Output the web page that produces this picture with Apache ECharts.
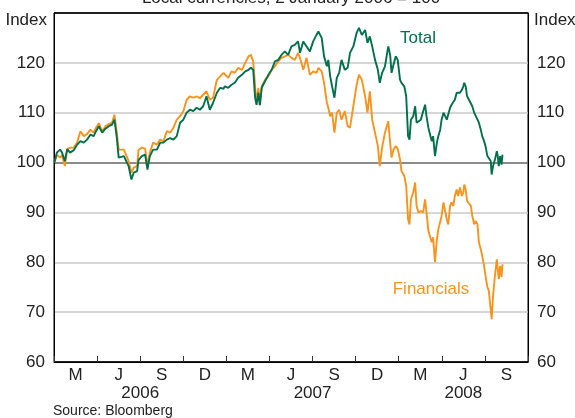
<!DOCTYPE html>
<html>
<head>
<meta charset="utf-8">
<script src="https://cdn.jsdelivr.net/npm/echarts@6/dist/echarts.min.js"></script>
<style>
html, body { margin: 0; padding: 0; background: #fff; }
#chart { width: 575px; height: 418px; }
</style>
</head>
<body>
<div id="chart"></div>
<script>
var dates = [
	'2006-01-02','2006-01-07','2006-01-14','2006-01-18','2006-01-24','2006-01-29','2006-02-04','2006-02-12','2006-02-19','2006-02-26',
	'2006-03-05','2006-03-12','2006-03-19','2006-03-26','2006-03-31','2006-04-06','2006-04-13','2006-04-20','2006-04-27','2006-05-04',
	'2006-05-09','2006-05-14','2006-05-18','2006-05-21','2006-05-29','2006-06-02','2006-06-08','2006-06-14','2006-06-19','2006-06-26',
	'2006-06-29','2006-07-06','2006-07-13','2006-07-18','2006-07-23','2006-07-30','2006-08-07','2006-08-14','2006-08-21','2006-08-28',
	'2006-09-04','2006-09-11','2006-09-18','2006-09-25','2006-10-02','2006-10-09','2006-10-16','2006-10-23','2006-10-30','2006-11-06',
	'2006-11-13','2006-11-20','2006-11-27','2006-12-04','2006-12-12','2006-12-19','2006-12-26','2006-12-29','2007-01-05','2007-01-12',
	'2007-01-19','2007-01-26','2007-02-03','2007-02-10','2007-02-17','2007-02-22','2007-02-27','2007-03-03','2007-03-06','2007-03-10',
	'2007-03-13','2007-03-17','2007-03-24','2007-03-31','2007-04-07','2007-04-14','2007-04-21','2007-04-28','2007-05-05','2007-05-12',
	'2007-05-19','2007-05-26','2007-06-02','2007-06-06','2007-06-13','2007-06-20','2007-06-27','2007-07-04','2007-07-11','2007-07-15',
	'2007-07-22','2007-07-27','2007-08-02','2007-08-05','2007-08-09','2007-08-13','2007-08-18','2007-08-23','2007-08-28','2007-09-02',
	'2007-09-09','2007-09-15','2007-09-20','2007-09-27','2007-10-04','2007-10-09','2007-10-15','2007-10-22','2007-10-27','2007-11-01',
	'2007-11-06','2007-11-12','2007-11-18','2007-11-22','2007-11-27','2007-12-03','2007-12-10','2007-12-14','2007-12-17','2007-12-21',
	'2007-12-26','2007-12-30','2008-01-04','2008-01-07','2008-01-13','2008-01-17','2008-01-21','2008-01-24','2008-01-27','2008-02-01',
	'2008-02-05','2008-02-08','2008-02-12','2008-02-17','2008-02-22','2008-02-26','2008-02-29','2008-03-04','2008-03-07','2008-03-11',
	'2008-03-14','2008-03-18','2008-03-22','2008-03-25','2008-03-29','2008-04-01','2008-04-05','2008-04-08','2008-04-12','2008-04-15',
	'2008-04-19','2008-04-22','2008-04-26','2008-04-29','2008-05-03','2008-05-06','2008-05-10','2008-05-14','2008-05-17','2008-05-19',
	'2008-05-22','2008-05-25','2008-05-29','2008-06-02','2008-06-05','2008-06-09','2008-06-12','2008-06-16','2008-06-19','2008-06-23',
	'2008-06-26','2008-06-30','2008-07-03','2008-07-07','2008-07-10','2008-07-14','2008-07-16','2008-07-19','2008-07-23','2008-07-27',
	'2008-07-29','2008-07-31','2008-08-03','2008-08-06','2008-08-08'
];

var total = [
	100, 102, 102.6, 102, 100.3, 102.7, 102, 102.5, 103.6, 104.3,
	104, 104.6, 105.6, 105.3, 106.3, 107.3, 106, 106.8, 107.3, 107.6,
	108.6, 105, 101, 101, 101.3, 101, 99.3, 96.6, 98, 98.3,
	100.5, 101.3, 101.6, 98.6, 101.3, 102.6, 102.6, 104, 104, 104.6,
	104.9, 104.6, 105.3, 108, 108.6, 110, 110.6, 110.3, 111, 110.6,
	111.3, 113.3, 110.6, 112, 114, 115, 114.8, 115.3, 115, 115.6,
	116, 117, 117.6, 118.3, 118.6, 119, 118.6, 113, 111.6, 114,
	111.5, 115, 116.3, 117.6, 118.6, 120.3, 120.6, 121.6, 122.3, 121.6,
	123.3, 123.6, 124.3, 122, 124.3, 123.3, 122.3, 124.3, 125.6, 126.3,
	125, 121.3, 119.3, 120.6, 117.3, 115.3, 113, 117, 118, 120.6,
	118.6, 119, 122, 123.3, 126, 127, 125.6, 126.6, 124, 125.3,
	123.3, 120.6, 118.6, 116, 118, 119.3, 123.3, 121.6, 118, 119.6,
	121.3, 120.6, 116.6, 116, 115.3, 113.3, 105.3, 104.6, 108.6, 109.3,
	111.3, 108, 108.3, 108.6, 110.3, 111.6, 109.3, 107, 106.6, 104.3,
	105.3, 101.3, 104, 105.3, 106.6, 108.6, 110, 110.3, 108.6, 108.6,
	111, 111.6, 111.3, 112.6, 114, 113.6, 114, 114.6, 115.3, 116,
	115.3, 113.3, 112.6, 112.8, 111.3, 110, 110.3, 108.6, 108, 106.6,
	105.3, 104.3, 103.3, 101.3, 101, 100.3, 97.6, 99.3, 100.6, 102.3,
	101.3, 99.3, 101.3, 99.6, 101.6
];

var financials = [
	100, 101.5, 101, 101.5, 99.3, 102.7, 103, 103, 104, 106.3,
	105.3, 105.7, 106.6, 106, 107, 107.9, 106.3, 107.3, 107.7, 108,
	109.6, 106, 102.6, 102.6, 102.6, 102.3, 100.3, 98, 99, 99.3,
	102.5, 103, 102.8, 99.3, 102, 104, 103.6, 104.6, 104.3, 106.3,
	106, 107, 108.6, 109.3, 110.3, 112.6, 113.3, 113, 113.3, 112.9,
	113.6, 114.3, 112.6, 113, 116.6, 117.3, 118, 118, 117, 118.3,
	118, 119, 118.6, 120, 121.3, 121.6, 120.3, 115.3, 112, 115,
	111.5, 115.3, 116.6, 117.3, 118.6, 119.3, 120.3, 121, 121.3, 121.6,
	121, 120.6, 122, 121, 118.6, 121, 117.6, 118.3, 118, 119,
	118.3, 116, 112, 111, 109.3, 110, 106, 110, 110.6, 108.6,
	110.3, 107.3, 107, 111.3, 115.6, 117.6, 116.6, 113.3, 110, 114.3,
	108.6, 106, 103.3, 99.3, 103, 106, 108.3, 104, 101, 102.6,
	103.3, 102.8, 100.6, 98.3, 97.3, 95.3, 88.6, 87.6, 92.6, 94,
	96, 91.3, 90, 90.3, 90, 92.6, 90, 86.3, 86, 84,
	85, 80, 84.6, 86.6, 87, 89.3, 92, 92, 88.6, 87.6,
	91.3, 92, 91.3, 93.3, 94.6, 93.3, 95, 93.3, 94, 95.6,
	94.6, 92.3, 92, 91.3, 89.3, 87.6, 88.3, 87.6, 84, 82.6,
	81.3, 79.3, 77.3, 75, 74.3, 74, 68.6, 73.3, 77.3, 80.6,
	78.6, 76.6, 79.3, 77, 79.6
];

var quarterLabels = ['M', 'J', 'S', 'D', 'M', 'J', 'S', 'D', 'M', 'J', 'S'];
// half-quarter steps from Jan 2006 to Oct 2008, years sit on mid-year
var yearLabels = ['', '', '', '', '2006', '', '', '', '', '', '', '', '2007', '', '', '', '', '', '', '2008', '', '', ''];

var font = 'Arial, "Liberation Sans", sans-serif';
var green = '#00704a';
var orange = '#f7941d';

function zip(xs, ys) {
	var out = [];
	for (var i = 0; i < xs.length; i++) {
		out.push([xs[i], ys[i]]);
	}
	return out;
}

function yAxisOpt(pos, grid) {
	return {
		type: 'value',
		position: pos,
		min: 60,
		max: 130,
		interval: 10,
		axisLine: { show: true, lineStyle: { color: '#000', width: 1 } },
		axisTick: { show: false },
		axisLabel: {
			margin: 9,
			fontSize: 17,
			fontFamily: font,
			color: '#222',
			formatter: function(v) { return v === 130 ? '' : v; }
		},
		splitLine: {
			show: grid,
			lineStyle: {
				width: 1.5,
				color: ['#000', '#c9c9c9', '#c9c9c9', '#c9c9c9', '#666', '#c9c9c9', '#c9c9c9', '#000']
			}
		}
	};
}

var myChart = echarts.init(document.getElementById('chart'));
var option = {
	animation: false,
	backgroundColor: '#fff',
	grid: {
		left: 54, right: 47, top: 13, bottom: 56,
		show: true, borderColor: '#000', borderWidth: 1
	},
	xAxis: [
		{
			type: 'time',
			min: '2006-01-01',
			max: '2008-10-01',
			show: false
		},
		{
			type: 'category',
			position: 'bottom',
			data: quarterLabels,
			boundaryGap: true,
			axisLine: { show: true, lineStyle: { color: '#000', width: 1 } },
			axisTick: { show: true, inside: true, length: 6, interval: 0, lineStyle: { color: '#333' } },
			axisLabel: { interval: 0, margin: 5, fontSize: 17, fontFamily: font, color: '#222' },
			splitLine: { show: false }
		},
		{
			type: 'category',
			position: 'bottom',
			data: yearLabels,
			boundaryGap: false,
			axisLine: { show: false },
			axisTick: { show: false },
			axisLabel: { interval: 0, margin: 23, fontSize: 17, fontFamily: font, color: '#222' },
			splitLine: { show: false }
		}
	],
	yAxis: [yAxisOpt('left', true), yAxisOpt('right', false)],
	series: [
		{
			name: 'Financials',
			type: 'line',
			xAxisIndex: 0,
			yAxisIndex: 0,
			showSymbol: false,
			lineStyle: { color: orange, width: 1.9 },
			data: zip(dates, financials)
		},
		{
			name: 'Total',
			type: 'line',
			xAxisIndex: 0,
			yAxisIndex: 0,
			showSymbol: false,
			lineStyle: { color: green, width: 1.9 },
			data: zip(dates, total)
		}
	],
	graphic: [
		{ type: 'text', x: 291, y: -2, style: { text: 'Local currencies, 2 January 2006 = 100', align: 'center', verticalAlign: 'middle', fontSize: 17, fontFamily: font, fill: '#222' } },
		{ type: 'text', x: 47, y: 20, style: { text: 'Index', align: 'right', verticalAlign: 'middle', fontSize: 17, fontFamily: font, fill: '#222' } },
		{ type: 'text', x: 534, y: 20, style: { text: 'Index', align: 'left', verticalAlign: 'middle', fontSize: 17, fontFamily: font, fill: '#222' } },
		{ type: 'text', x: 418, y: 38, style: { text: 'Total', align: 'center', verticalAlign: 'middle', fontSize: 17, fontFamily: font, fill: green } },
		{ type: 'text', x: 431, y: 289, style: { text: 'Financials', align: 'center', verticalAlign: 'middle', fontSize: 17, fontFamily: font, fill: orange } },
		{ type: 'text', x: 53, y: 411, style: { text: 'Source: Bloomberg', align: 'left', verticalAlign: 'middle', fontSize: 14, fontFamily: font, fill: '#222' } }
	]
};
myChart.setOption(option);
</script>
</body>
</html>
